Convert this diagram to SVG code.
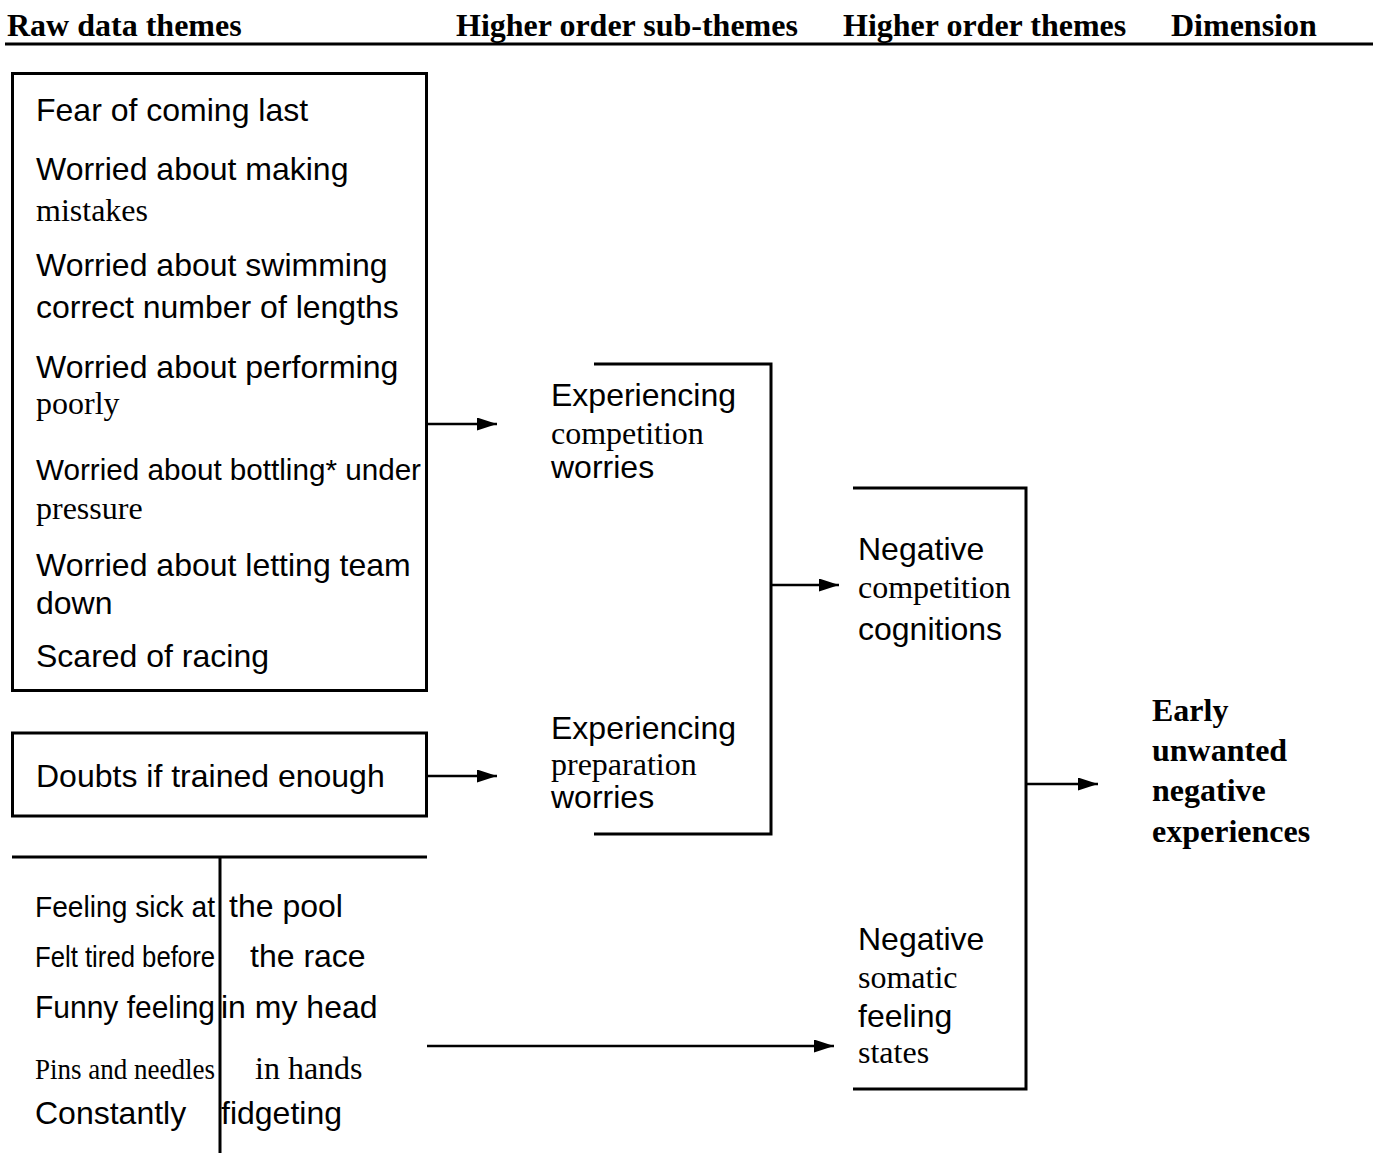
<svg xmlns="http://www.w3.org/2000/svg" width="1383" height="1153" viewBox="0 0 1383 1153">
<style>
.h{font-family:"Liberation Serif","Times New Roman",serif;font-weight:bold;font-size:32px;fill:#000}
.s{font-family:"Liberation Sans",Arial,sans-serif;font-size:32px;fill:#000}
.r{font-family:"Liberation Serif","Times New Roman",serif;font-size:32px;fill:#000}
.box{fill:none;stroke:#000;stroke-width:3}
.ln{fill:none;stroke:#000;stroke-width:3}
.ar{fill:none;stroke:#000;stroke-width:2.5}
</style>
<defs>
<marker id="arr" markerUnits="userSpaceOnUse" markerWidth="22" markerHeight="14" refX="20" refY="6.5" orient="auto">
<path d="M0,0 L20,6.5 L0,13 z" fill="#000"/>
</marker>
</defs>
<rect width="1383" height="1153" fill="#fff"/>
<g id="header">
<text class="h" x="7" y="36">Raw data themes</text>
<text class="h" x="456" y="36">Higher order sub-themes</text>
<text class="h" x="843" y="36">Higher order themes</text>
<text class="h" x="1171" y="36">Dimension</text>
<line class="ln" x1="5" y1="44" x2="1373" y2="44"/>
</g>
<g id="raw-competition">
<rect class="box" x="12.5" y="73.5" width="414" height="617"/>
<text class="s" x="36" y="121">Fear of coming last</text>
<text class="s" x="36" y="180">Worried about making</text>
<text class="r" x="36" y="221">mistakes</text>
<text class="s" x="36" y="276">Worried about swimming</text>
<text class="s" x="36" y="318">correct number of lengths</text>
<text class="s" x="36" y="378">Worried about performing</text>
<text class="r" x="36" y="414">poorly</text>
<text class="s" x="36" y="480" textLength="385" lengthAdjust="spacingAndGlyphs" style="font-size:30px">Worried about bottling* under</text>
<text class="r" x="36" y="519">pressure</text>
<text class="s" x="36" y="576">Worried about letting team</text>
<text class="s" x="36" y="614">down</text>
<text class="s" x="36" y="667">Scared of racing</text>
</g>
<g id="raw-preparation">
<rect class="box" x="12.5" y="733" width="414" height="83"/>
<text class="s" x="36" y="787">Doubts if trained enough</text>
</g>
<g id="raw-somatic">
<line class="ln" x1="12" y1="857" x2="427" y2="857"/>
<line class="ln" x1="220" y1="857" x2="220" y2="1153"/>
<text class="s" x="35" y="917" textLength="180" lengthAdjust="spacingAndGlyphs" style="font-size:30px">Feeling sick at</text>
<text class="s" x="229" y="917">the pool</text>
<text class="s" x="35" y="967" textLength="180" lengthAdjust="spacingAndGlyphs" style="font-size:30px">Felt tired before</text>
<text class="s" x="250" y="967">the race</text>
<text class="s" x="35" y="1018" textLength="180" lengthAdjust="spacingAndGlyphs">Funny feeling</text>
<text class="s" x="221" y="1018">in my head</text>
<text class="r" x="35" y="1079" textLength="180" lengthAdjust="spacingAndGlyphs" style="font-size:30px">Pins and needles</text>
<text class="r" x="255" y="1079">in hands</text>
<text class="s" x="35" y="1124">Constantly</text>
<text class="s" x="221" y="1124">fidgeting</text>
</g>
<g id="sub-competition">
<text class="s" x="551" y="406">Experiencing</text>
<text class="r" x="551" y="444">competition</text>
<text class="s" x="551" y="478">worries</text>
</g>
<g id="sub-preparation">
<text class="s" x="551" y="739">Experiencing</text>
<text class="r" x="551" y="775">preparation</text>
<text class="s" x="551" y="808">worries</text>
</g>
<g id="theme-cognitions">
<text class="s" x="858" y="560">Negative</text>
<text class="r" x="858" y="598">competition</text>
<text class="s" x="858" y="640">cognitions</text>
</g>
<g id="theme-somatic">
<text class="s" x="858" y="950">Negative</text>
<text class="r" x="858" y="988">somatic</text>
<text class="s" x="858" y="1027">feeling</text>
<text class="r" x="858" y="1063">states</text>
</g>
<g id="dimension">
<text class="h" x="1152" y="721">Early</text>
<text class="h" x="1152" y="761">unwanted</text>
<text class="h" x="1152" y="801">negative</text>
<text class="h" x="1152" y="842">experiences</text>
</g>
<g id="connectors">
<polyline class="ln" points="594,364 771,364 771,834 594,834"/>
<polyline class="ln" points="853,488 1026,488 1026,1089 853,1089"/>
<line class="ar" x1="427" y1="424" x2="497" y2="424" marker-end="url(#arr)"/>
<line class="ar" x1="427" y1="776" x2="497" y2="776" marker-end="url(#arr)"/>
<line class="ar" x1="771" y1="585" x2="839" y2="585" marker-end="url(#arr)"/>
<line class="ar" x1="427" y1="1046" x2="834" y2="1046" marker-end="url(#arr)"/>
<line class="ar" x1="1026" y1="784" x2="1098" y2="784" marker-end="url(#arr)"/>
</g>
</svg>
